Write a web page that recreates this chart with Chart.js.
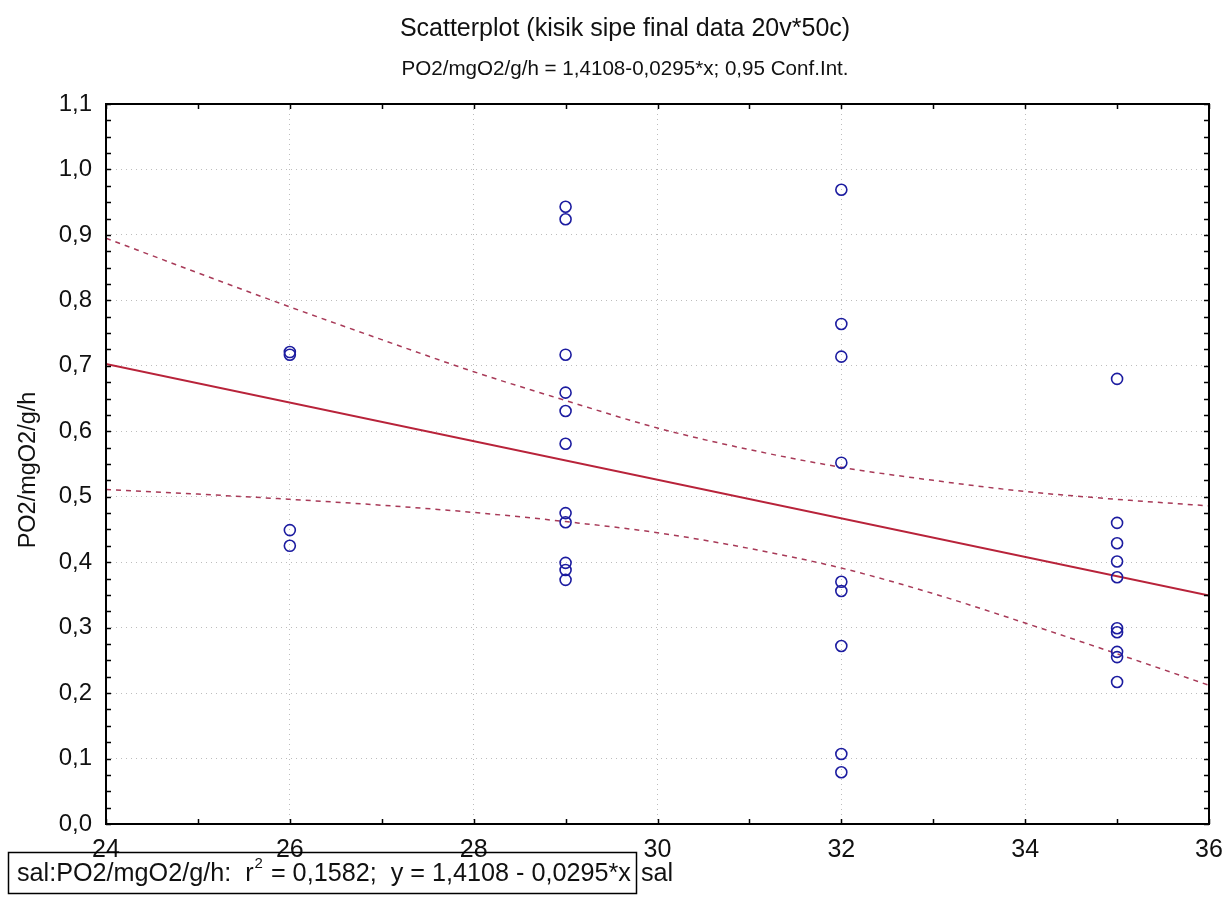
<!DOCTYPE html>
<html>
<head>
<meta charset="utf-8">
<script src="https://cdn.jsdelivr.net/npm/chart.js@4"></script>
<style>
  html, body { margin: 0; padding: 0; background: #fff; }
  #wrap { width: 1228px; height: 913px; position: relative; }
</style>
</head>
<body>
<div id="wrap"><canvas id="scatter"></canvas></div>
<script>
// observed PO2 values per salinity level
const salLevels = [26, 29, 32, 35];
const po2At26 = [0.721, 0.717, 0.449, 0.425];
const po2At29 = [0.943, 0.924, 0.717, 0.659, 0.631, 0.581, 0.475, 0.461, 0.399, 0.388, 0.373];
const po2At32 = [0.969, 0.764, 0.714, 0.552, 0.370, 0.356, 0.272, 0.107, 0.079];
const po2At35 = [0.680, 0.460, 0.429, 0.401, 0.377, 0.299, 0.293, 0.263, 0.255, 0.217];

// fitted line and 0,95 confidence band
const fitX = [24, 36];
const fitY = [0.703, 0.349];
const bandX = [24, 25, 26, 27, 28, 29, 30, 31, 32, 33, 34, 35, 36];
const upperBand = [0.895, 0.842, 0.790, 0.740, 0.691, 0.647, 0.605, 0.572, 0.545, 0.525, 0.508, 0.496, 0.486];
const lowerBand = [0.511, 0.504, 0.496, 0.487, 0.476, 0.462, 0.445, 0.421, 0.391, 0.352, 0.307, 0.260, 0.212];

const titleText = 'Scatterplot (kisik sipe final data 20v*50c)';
const subtitleText = 'PO2/mgO2/g/h = 1,4108-0,0295*x; 0,95 Conf.Int.';
const yTitle = 'PO2/mgO2/g/h';
const xTitle = 'sal';

const FONT = '"Liberation Sans", Arial, sans-serif';

const groups = [po2At26, po2At29, po2At32, po2At35];
const points = [];
groups.forEach((vals, i) => vals.forEach(v => points.push({ x: salLevels[i], y: v })));

const toXY = (xs, ys) => xs.map((x, i) => ({ x: x, y: ys[i] }));
const comma = v => (Math.round(v * 10) / 10).toFixed(1).replace('.', ',');

const decor = {
    id: 'decor',
    afterDatasetsDraw(chart) {
        const ctx = chart.ctx;
        const a = chart.chartArea;
        const xs = chart.scales.x, ys = chart.scales.y;
        ctx.save();
        ctx.strokeStyle = '#000';
        ctx.lineWidth = 1.5;
        // inner minor ticks
        ctx.beginPath();
        for (let v = 0; v <= 1.1001; v += 0.025) {
            const py = Math.round(ys.getPixelForValue(v)) + 0.5;
            ctx.moveTo(a.left, py); ctx.lineTo(a.left + 5, py);
            ctx.moveTo(a.right, py); ctx.lineTo(a.right - 5, py);
        }
        for (let v = 24; v <= 36; v += 1) {
            const px = Math.round(xs.getPixelForValue(v)) + 0.5;
            ctx.moveTo(px, a.top); ctx.lineTo(px, a.top + 5);
            ctx.moveTo(px, a.bottom); ctx.lineTo(px, a.bottom - 5);
        }
        ctx.stroke();
        // frame
        ctx.lineWidth = 2;
        ctx.strokeRect(a.left, a.top, a.right - a.left, a.bottom - a.top);
        ctx.restore();
    },
    afterDraw(chart) {
        const ctx = chart.ctx;
        ctx.save();
        ctx.fillStyle = '#111';
        ctx.textBaseline = 'middle';
        ctx.textAlign = 'center';
        ctx.font = '25px ' + FONT;
        ctx.fillText(titleText, 625, 29);
        ctx.font = '20.6px ' + FONT;
        ctx.fillText(subtitleText, 625, 69);

        // y title
        ctx.save();
        ctx.font = '23.5px ' + FONT;
        ctx.translate(29, 470);
        ctx.rotate(-Math.PI / 2);
        ctx.fillText(yTitle, 0, 0);
        ctx.restore();

        // regression box
        ctx.strokeStyle = '#000';
        ctx.lineWidth = 1.5;
        ctx.strokeRect(8.5, 852.5, 628, 41);
        ctx.textAlign = 'left';
        ctx.font = '25.2px ' + FONT;
        ctx.fillText('sal:PO2/mgO2/g/h:  r', 17, 874);
        const w = ctx.measureText('sal:PO2/mgO2/g/h:  r').width;
        ctx.font = '15px ' + FONT;
        ctx.fillText('2', 17 + w + 1, 864);
        const w2 = ctx.measureText('2').width;
        ctx.font = '25.2px ' + FONT;
        ctx.fillText(' = 0,1582;  y = 1,4108 - 0,0295*x', 17 + w + w2 + 2, 874);
        ctx.fillText(xTitle, 641, 874);
        ctx.restore();
    }
};

const gridStyle = { color: '#bdbdbd', lineWidth: 1, drawTicks: false };

new Chart(document.getElementById('scatter'), {
    type: 'scatter',
    data: {
        datasets: [
            {
                label: 'PO2',
                data: points,
                pointStyle: 'circle',
                pointRadius: 5.5,
                pointBorderWidth: 1.6,
                pointBorderColor: '#1c1ca0',
                pointBackgroundColor: 'rgba(0,0,0,0)',
                showLine: false,
            },
            {
                label: 'fit',
                data: toXY(fitX, fitY),
                showLine: true,
                borderColor: '#b8233a',
                borderWidth: 2,
                pointRadius: 0,
            },
            {
                label: 'upper',
                data: toXY(bandX, upperBand),
                showLine: true,
                borderColor: '#a83a58',
                borderWidth: 1.5,
                borderDash: [5, 5],
                pointRadius: 0,
                cubicInterpolationMode: 'monotone',
            },
            {
                label: 'lower',
                data: toXY(bandX, lowerBand),
                showLine: true,
                borderColor: '#a83a58',
                borderWidth: 1.5,
                borderDash: [5, 5],
                pointRadius: 0,
                cubicInterpolationMode: 'monotone',
            },
        ],
    },
    options: {
        responsive: true,
        maintainAspectRatio: false,
        animation: false,
        layout: { padding: { left: 0, right: 19, top: 104, bottom: 0 } },
        plugins: {
            legend: { display: false },
            tooltip: { enabled: false },
        },
        scales: {
            x: {
                type: 'linear',
                min: 24,
                max: 36,
                grid: gridStyle,
                border: { display: false, dash: [1, 4] },
                ticks: {
                    stepSize: 2,
                    padding: 11,
                    color: '#111',
                    font: { size: 25, family: FONT },
                },
                afterFit: s => {
                    s.height = 89;
                    s.paddingLeft = 0;
                    s.paddingRight = 0;
                },
            },
            y: {
                min: 0,
                max: 1.1,
                grid: gridStyle,
                border: { display: false, dash: [1, 4] },
                ticks: {
                    stepSize: 0.1,
                    padding: 14,
                    color: '#111',
                    font: { size: 24, family: FONT },
                    callback: v => comma(v),
                },
                afterFit: s => { s.width = 106; },
            },
        },
    },
    plugins: [decor],
});
</script>
</body>
</html>
